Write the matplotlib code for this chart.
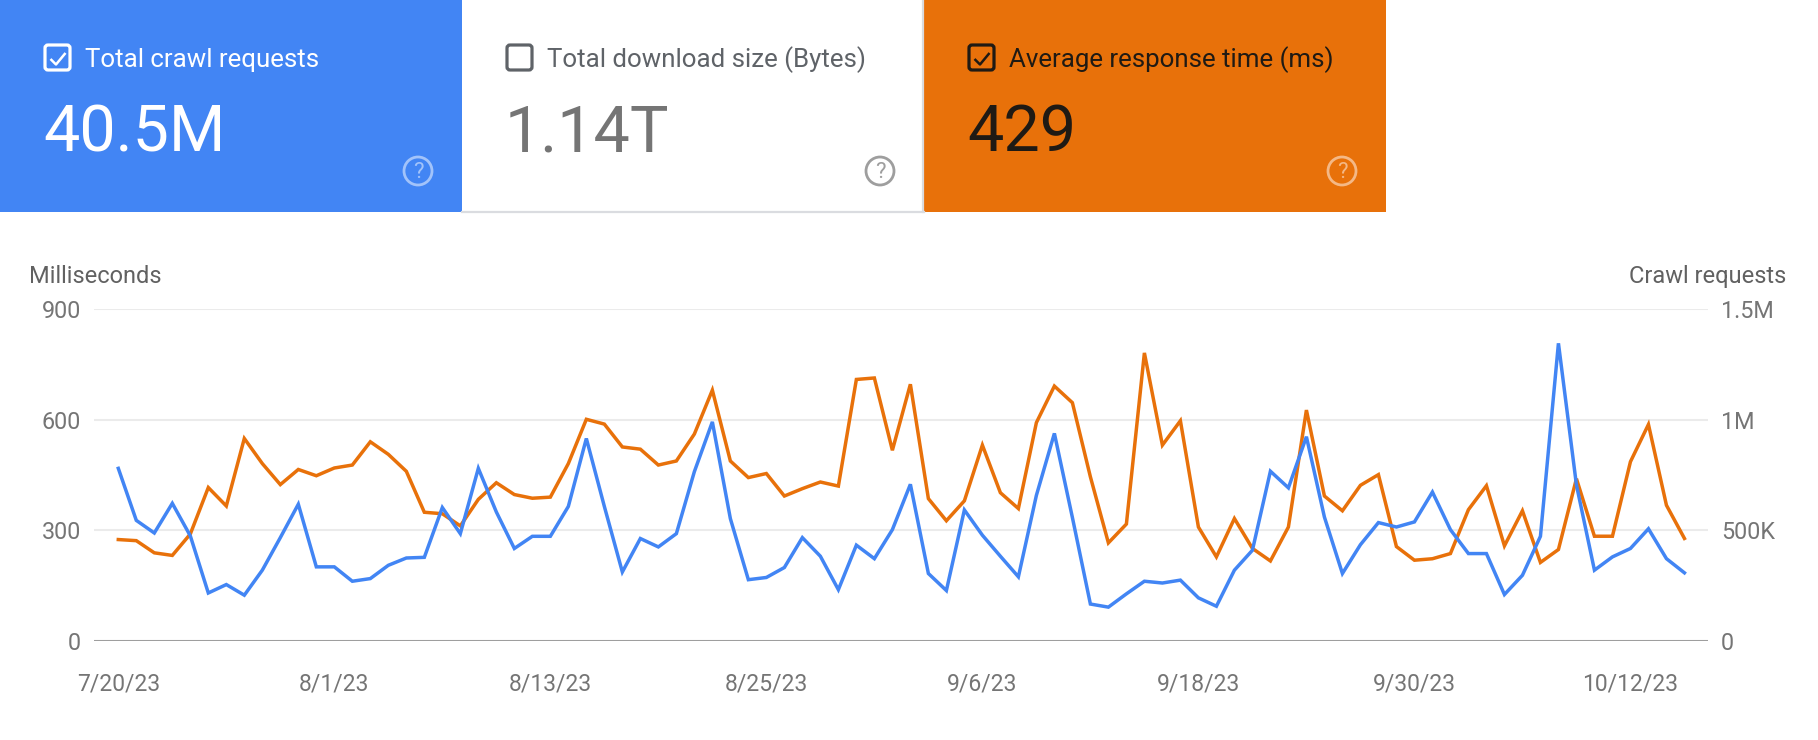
import matplotlib
matplotlib.use("Agg")
import matplotlib.pyplot as plt
from matplotlib.patches import FancyBboxPatch, Rectangle, Circle
import pandas as pd

plt.rcParams['font.family'] = ['Roboto', 'DejaVu Sans']

# ---------------- data ----------------
start_date = "2023-07-20"
response_ms = [275, 272, 239, 232, 290, 416, 366, 549, 481, 424, 465, 448, 469, 477, 540, 506,
               460, 349, 345, 312, 384, 429, 397, 387, 390, 481, 601, 588, 526, 520, 477, 488,
               561, 680, 488, 443, 454, 393, 413, 431, 420, 709, 713, 517, 696, 386, 326, 380,
               531, 402, 359, 592, 691, 646, 445, 266, 317, 781, 531, 597, 309, 228, 332, 251,
               217, 309, 626, 393, 353, 422, 451, 256, 219, 223, 237, 356, 421, 258, 353, 213,
               248, 440, 284, 284, 486, 587, 368, 278]
crawl_k = [780, 545, 488, 622, 475, 217, 255, 207, 320, 467, 618, 335, 335, 270, 282, 342,
           375, 378, 603, 485, 780, 583, 418, 473, 473, 608, 915, 608, 312, 463, 425, 485,
           765, 990, 553, 277, 287, 332, 467, 383, 232, 433, 372, 503, 708, 305, 228, 592,
           478, 383, 290, 658, 938, 558, 167, 153, 213, 270, 262, 275, 195, 157, 320, 410,
           767, 692, 923, 560, 305, 435, 535, 515, 538, 673, 503, 395, 395, 210, 297, 473,
           1345, 705, 320, 380, 418, 507, 372, 308]
crawl_requests = [v * 1000 for v in crawl_k]

x_tick_dates = ["2023-07-20", "2023-08-01", "2023-08-13", "2023-08-25",
                "2023-09-06", "2023-09-18", "2023-09-30", "2023-10-12"]
x_tick_labels = ["7/20/23", "8/1/23", "8/13/23", "8/25/23", "9/6/23", "9/18/23", "9/30/23", "10/12/23"]
left_ticks = [0, 300, 600, 900]
left_tick_labels = ["0", "300", "600", "900"]
right_ticks = [0, 500000, 1000000, 1500000]
right_tick_labels = ["0", "500K", "1M", "1.5M"]

card_titles = ["Total crawl requests", "Total download size (Bytes)", "Average response time (ms)"]
card_values = ["40.5M", "1.14T", "429"]
card_checked = [True, False, True]

dates = pd.date_range(start_date, periods=len(response_ms), freq="D")

BLUE = "#4285F4"
ORANGE = "#E8710A"

W, H = 1818, 740
fig = plt.figure(figsize=(W / 100, H / 100), dpi=100)

# ---------------- chart ----------------
ax_l, ax_r, ax_t, ax_b = 94.3, 1707.7, 309, 641
ax = fig.add_axes([ax_l / W, (H - ax_b) / H, (ax_r - ax_l) / W, (ax_b - ax_t) / H])
ax.plot(dates, response_ms, color=ORANGE, lw=2.5, solid_joinstyle="miter", zorder=3)
ax.set_ylim(0, 900)
ax.set_yticks(left_ticks)
ax.set_yticklabels(left_tick_labels)
ax.grid(axis="y", color="#ebebeb", lw=1.5, zorder=0)
ax.axhline(0, color="#9e9e9e", lw=2.2, zorder=2)
for s in ax.spines.values():
    s.set_visible(False)
ax.tick_params(axis="y", length=0, pad=9.5, labelsize=16.8, labelcolor="#757575")
ax.tick_params(axis="x", length=0, pad=23, labelsize=16.5, labelcolor="#757575")
ax.set_xticks(pd.to_datetime(x_tick_dates))
ax.set_xticklabels(x_tick_labels)
ax.set_xlim(dates[0] - pd.Timedelta(hours=32), dates[-1] + pd.Timedelta(hours=31))

ax2 = ax.twinx()
ax2.plot(dates, crawl_requests, color=BLUE, lw=2.5, solid_joinstyle="miter", zorder=3)
ax2.set_ylim(0, 1500000)
ax2.set_yticks(right_ticks)
ax2.set_yticklabels(right_tick_labels)
for s in ax2.spines.values():
    s.set_visible(False)
ax2.tick_params(axis="y", length=0, pad=9.5, labelsize=16.8, labelcolor="#757575")

# ---------------- overlay (cards + axis titles) ----------------
ov = fig.add_axes([0, 0, 1, 1], zorder=-1)
ov.set_xlim(0, W)
ov.set_ylim(H, 0)
ov.axis("off")

fig.text(29 / W, 1 - 282.5 / H, "Milliseconds", fontsize=17, color="#616161",
         ha="left", va="baseline")
fig.text(1786.7 / W, 1 - 282.5 / H, "Crawl requests", fontsize=17, color="#616161",
         ha="right", va="baseline")

card_w = 462
card_h = 212
card_bg = [BLUE, "white", ORANGE]
text_col = ["white", "#5f6368", "#1f1a14"]
value_col = ["white", "#757575", "#1f1a14"]
box_col = ["white", "#5f6368", "#1f1a14"]
help_col = ["#a2c3fa", "#9e9e9e", "#f4b886"]

for i in range(3):
    x0 = i * card_w
    ov.add_patch(Rectangle((x0, 0), card_w, card_h, facecolor=card_bg[i], edgecolor="none", zorder=1))
    if card_bg[i] == "white":
        ov.plot([x0, x0 + card_w], [card_h - 0.5, card_h - 0.5], color="#dadce0", lw=1.6, zorder=2)
        ov.plot([x0 + card_w - 1, x0 + card_w - 1], [0, card_h], color="#dadce0", lw=1.6, zorder=2)
    # checkbox
    ov.add_patch(FancyBboxPatch((x0 + 45, 45), 25, 25, boxstyle="round,pad=0,rounding_size=3",
                                facecolor="none", edgecolor=box_col[i], lw=2.3, zorder=3))
    if card_checked[i]:
        ov.plot([x0 + 50.5, x0 + 56, x0 + 65.5], [59, 64.5, 53], color=box_col[i],
                lw=1.8, solid_capstyle="butt", zorder=4)
    ov.text(x0 + 85, 67, card_titles[i], fontsize=18.6, color=text_col[i],
            ha="left", va="baseline", zorder=4)
    ov.text(x0 + 43, 151, card_values[i], fontsize=46.5, color=value_col[i],
            ha="left", va="baseline", zorder=4)
    # help icon
    ov.add_patch(Circle((x0 + 418, 171), 14, facecolor="none", edgecolor=help_col[i], lw=2.0, zorder=3))
    ov.text(x0 + 418, 172, "?", fontsize=16, color=help_col[i], ha="center", va="center",
            zorder=4)

fig.savefig("out.png", dpi=100)
